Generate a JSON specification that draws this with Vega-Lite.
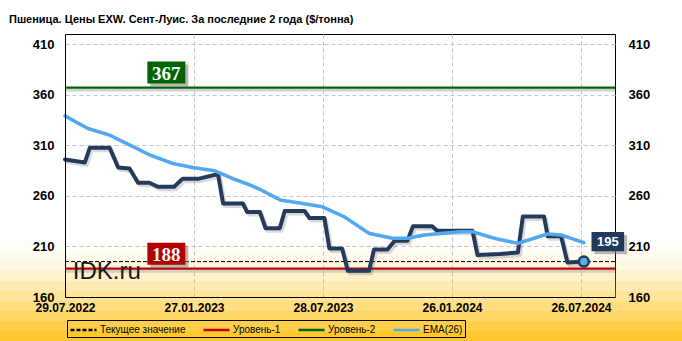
{
  "$schema": "https://vega.github.io/schema/vega-lite/v6.json",
  "width": 550,
  "height": 263,
  "autosize": "none",
  "padding": {"left": 65, "top": 34, "right": 67, "bottom": 44},
  "background": "white",
  "title": {
    "text": "Пшеница.  Цены EXW. Сент-Луис. За последние 2 года ($/тонна)",
    "anchor": "start",
    "frame": "group",
    "dx": -56,
    "offset": 0,
    "baseline": "alphabetic",
    "font": "Liberation Sans",
    "fontSize": 11,
    "fontWeight": "bold",
    "color": "black"
  },
  "config": {
    "view": {"stroke": "black", "strokeWidth": 1},
    "legend": {
      "orient": "none",
      "legendX": 2,
      "legendY": 286,
      "direction": "horizontal",
      "title": null,
      "padding": 2,
      "strokeColor": "black",
      "labelFont": "Liberation Sans",
      "labelFontSize": 10,
      "labelColor": "black",
      "labelOffset": 15,
      "columnPadding": 12,
      "symbolType": "M-1,0L3,0",
      "symbolSize": 169,
      "symbolStrokeWidth": 2.5,
      "symbolFillColor": "transparent"
    }
  },
  "datasets": {
    "price": [
      {"date": "2022-07-29", "value": 296},
      {"date": "2022-08-26", "value": 293},
      {"date": "2022-09-02", "value": 307.5},
      {"date": "2022-09-30", "value": 307.5},
      {"date": "2022-10-12", "value": 288},
      {"date": "2022-10-28", "value": 287},
      {"date": "2022-11-09", "value": 273},
      {"date": "2022-11-25", "value": 273},
      {"date": "2022-12-07", "value": 269},
      {"date": "2022-12-30", "value": 269},
      {"date": "2023-01-11", "value": 277},
      {"date": "2023-02-03", "value": 277},
      {"date": "2023-02-24", "value": 280.5},
      {"date": "2023-03-02", "value": 281},
      {"date": "2023-03-09", "value": 252.5},
      {"date": "2023-04-06", "value": 252.5},
      {"date": "2023-04-12", "value": 244},
      {"date": "2023-04-30", "value": 244},
      {"date": "2023-05-08", "value": 228},
      {"date": "2023-05-28", "value": 228},
      {"date": "2023-06-04", "value": 245},
      {"date": "2023-07-02", "value": 245},
      {"date": "2023-07-09", "value": 238},
      {"date": "2023-07-30", "value": 238},
      {"date": "2023-08-06", "value": 208},
      {"date": "2023-08-24", "value": 208},
      {"date": "2023-09-01", "value": 186},
      {"date": "2023-10-01", "value": 186},
      {"date": "2023-10-08", "value": 207},
      {"date": "2023-10-27", "value": 207},
      {"date": "2023-11-06", "value": 215.5},
      {"date": "2023-11-24", "value": 215.5},
      {"date": "2023-12-02", "value": 230},
      {"date": "2023-12-29", "value": 230},
      {"date": "2024-01-05", "value": 225.5},
      {"date": "2024-02-24", "value": 225.5},
      {"date": "2024-03-02", "value": 201.5},
      {"date": "2024-04-02", "value": 202.5},
      {"date": "2024-04-28", "value": 204},
      {"date": "2024-05-05", "value": 239.5},
      {"date": "2024-06-04", "value": 239.5},
      {"date": "2024-06-09", "value": 220},
      {"date": "2024-06-28", "value": 220},
      {"date": "2024-07-07", "value": 194},
      {"date": "2024-07-30", "value": 195}
    ],
    "ema": [
      {"date": "2022-07-29", "value": 339, "series": "EMA(26)"},
      {"date": "2022-08-30", "value": 326.7, "series": "EMA(26)"},
      {"date": "2022-09-30", "value": 320, "series": "EMA(26)"},
      {"date": "2022-10-29", "value": 310, "series": "EMA(26)"},
      {"date": "2022-11-26", "value": 300.3, "series": "EMA(26)"},
      {"date": "2022-12-28", "value": 292, "series": "EMA(26)"},
      {"date": "2023-01-25", "value": 288, "series": "EMA(26)"},
      {"date": "2023-02-25", "value": 284.8, "series": "EMA(26)"},
      {"date": "2023-03-23", "value": 277, "series": "EMA(26)"},
      {"date": "2023-04-16", "value": 270.7, "series": "EMA(26)"},
      {"date": "2023-04-30", "value": 266.4, "series": "EMA(26)"},
      {"date": "2023-05-29", "value": 255.8, "series": "EMA(26)"},
      {"date": "2023-06-28", "value": 252.6, "series": "EMA(26)"},
      {"date": "2023-07-27", "value": 249.2, "series": "EMA(26)"},
      {"date": "2023-08-27", "value": 239.3, "series": "EMA(26)"},
      {"date": "2023-10-01", "value": 222.9, "series": "EMA(26)"},
      {"date": "2023-11-03", "value": 218, "series": "EMA(26)"},
      {"date": "2023-11-24", "value": 218, "series": "EMA(26)"},
      {"date": "2023-12-18", "value": 221.3, "series": "EMA(26)"},
      {"date": "2024-02-06", "value": 224.5, "series": "EMA(26)"},
      {"date": "2024-02-24", "value": 224.5, "series": "EMA(26)"},
      {"date": "2024-03-26", "value": 218, "series": "EMA(26)"},
      {"date": "2024-04-28", "value": 213, "series": "EMA(26)"},
      {"date": "2024-05-25", "value": 219, "series": "EMA(26)"},
      {"date": "2024-06-09", "value": 222.3, "series": "EMA(26)"},
      {"date": "2024-06-28", "value": 221.3, "series": "EMA(26)"},
      {"date": "2024-07-30", "value": 213.7, "series": "EMA(26)"}
    ],
    "levels": [
      {"series": "Уровень-1", "value": 188},
      {"series": "Уровень-2", "value": 367}
    ],
    "current": [
      {"series": "Текущее значение", "value": 195, "date": "2024-07-30"}
    ]
  },
  "resolve": {"axis": {"x": "independent", "y": "independent"}},
  "layer": [
    {
      "data": {"name": "current"},
      "mark": {"type": "point", "shape": "M-1,0L1,0L1,1L-1,1Z", "size": 640000, "filled": true, "fill": "#ffc41e", "opacity": 0.015, "strokeWidth": 0, "xOffset": -243},
      "encoding": {
        "x": {
          "field": "date",
          "type": "temporal",
          "scale": {"type": "utc", "domain": [{"year": 2022, "month": 7, "date": 29, "utc": true}, {"year": 2024, "month": 9, "date": 12, "utc": true}]},
          "axis": {
            "orient": "bottom", "title": null, "grid": true, "gridColor": "#c4c4c4", "gridDash": [4, 3], "gridWidth": 1,
            "labels": false, "ticks": false, "domain": false, "zindex": 0,
            "values": [
              {"year": 2022, "month": 7, "date": 29, "utc": true},
              {"year": 2023, "month": 1, "date": 27, "utc": true},
              {"year": 2023, "month": 7, "date": 28, "utc": true},
              {"year": 2024, "month": 1, "date": 26, "utc": true},
              {"year": 2024, "month": 7, "date": 26, "utc": true}
            ]
          }
        },
        "y": {
          "datum": 215.4,
          "type": "quantitative",
          "scale": {"domain": [160, 420], "nice": false, "zero": false},
          "axis": {
            "orient": "left", "title": null, "grid": true, "gridColor": "#c4c4c4", "gridDash": [4, 3], "gridWidth": 1,
            "labels": false, "ticks": false, "domain": false, "zindex": 0,
            "values": [160, 210, 260, 310, 360, 410]
          }
        }
      }
    },
    {
      "data": {"name": "current"},
      "mark": {"type": "point", "shape": "M-1,0L1,0L1,1L-1,1Z", "size": 640000, "filled": true, "fill": "#ffc41e", "opacity": 0.056, "strokeWidth": 0, "xOffset": -243},
      "encoding": {
        "x": {"field": "date", "type": "temporal", "axis": null},
        "y": {"datum": 205.5, "type": "quantitative", "axis": null}
      }
    },
    {
      "data": {"name": "current"},
      "mark": {"type": "point", "shape": "M-1,0L1,0L1,1L-1,1Z", "size": 640000, "filled": true, "fill": "#ffc41e", "opacity": 0.075, "strokeWidth": 0, "xOffset": -243},
      "encoding": {
        "x": {"field": "date", "type": "temporal", "axis": null},
        "y": {"datum": 195.6, "type": "quantitative", "axis": null}
      }
    },
    {
      "data": {"name": "current"},
      "mark": {"type": "point", "shape": "M-1,0L1,0L1,1L-1,1Z", "size": 640000, "filled": true, "fill": "#ffc41e", "opacity": 0.105, "strokeWidth": 0, "xOffset": -243},
      "encoding": {
        "x": {"field": "date", "type": "temporal", "axis": null},
        "y": {"datum": 185.7, "type": "quantitative", "axis": null}
      }
    },
    {
      "data": {"name": "current"},
      "mark": {"type": "point", "shape": "M-1,0L1,0L1,1L-1,1Z", "size": 640000, "filled": true, "fill": "#ffc41e", "opacity": 0.13, "strokeWidth": 0, "xOffset": -243},
      "encoding": {
        "x": {"field": "date", "type": "temporal", "axis": null},
        "y": {"datum": 175.8, "type": "quantitative", "axis": null}
      }
    },
    {
      "data": {"name": "current"},
      "mark": {"type": "point", "shape": "M-1,0L1,0L1,1L-1,1Z", "size": 640000, "filled": true, "fill": "#ffc41e", "opacity": 0.15, "strokeWidth": 0, "xOffset": -243},
      "encoding": {
        "x": {"field": "date", "type": "temporal", "axis": null},
        "y": {"datum": 165.9, "type": "quantitative", "axis": null}
      }
    },
    {
      "data": {"name": "current"},
      "mark": {"type": "point", "shape": "M-1,0L1,0L1,1L-1,1Z", "size": 640000, "filled": true, "fill": "#ffc41e", "opacity": 0.21, "strokeWidth": 0, "xOffset": -243},
      "encoding": {
        "x": {"field": "date", "type": "temporal", "axis": null},
        "y": {"datum": 156.0, "type": "quantitative", "axis": null}
      }
    },
    {
      "data": {"name": "current"},
      "mark": {"type": "point", "shape": "M-1,0L1,0L1,1L-1,1Z", "size": 640000, "filled": true, "fill": "#ffc41e", "opacity": 0.27, "strokeWidth": 0, "xOffset": -243},
      "encoding": {
        "x": {"field": "date", "type": "temporal", "axis": null},
        "y": {"datum": 146.2, "type": "quantitative", "axis": null}
      }
    },
    {
      "data": {"name": "current"},
      "mark": {"type": "point", "shape": "M-1,0L1,0L1,1L-1,1Z", "size": 640000, "filled": true, "fill": "#ffc41e", "opacity": 0.39, "strokeWidth": 0, "xOffset": -243},
      "encoding": {
        "x": {"field": "date", "type": "temporal", "axis": null},
        "y": {"datum": 136.3, "type": "quantitative", "axis": null}
      }
    },
    {
      "data": {"name": "current"},
      "mark": {"type": "point", "shape": "M-1,0L1,0L1,1L-1,1Z", "size": 640000, "filled": true, "fill": "#ffc41e", "opacity": 0.65, "strokeWidth": 0, "xOffset": -243},
      "encoding": {
        "x": {"field": "date", "type": "temporal", "axis": null},
        "y": {"datum": 126.4, "type": "quantitative", "axis": null}
      }
    },
    {
      "data": {"name": "levels"},
      "mark": {"type": "rule", "color": "#bdbdbd", "strokeWidth": 3, "yOffset": 2.5, "opacity": 0.7},
      "encoding": {
        "y": {"field": "value", "type": "quantitative", "axis": null}
      }
    },
    {
      "data": {"name": "levels"},
      "mark": {"type": "rule", "strokeWidth": 2.2},
      "encoding": {
        "y": {"field": "value", "type": "quantitative", "axis": null},
        "color": {"field": "series", "type": "nominal",
          "scale": {"domain": ["Текущее значение", "Уровень-1", "Уровень-2", "EMA(26)"], "range": ["black", "#c00000", "#006400", "#52a8f0"]}},
        "strokeDash": {"field": "series", "type": "nominal",
          "scale": {"domain": ["Текущее значение", "Уровень-1", "Уровень-2", "EMA(26)"], "range": [[4, 2], [1, 0], [1, 0], [1, 0]]}}
      }
    },
    {
      "data": {"name": "current"},
      "mark": {"type": "rule", "strokeWidth": 1},
      "encoding": {
        "y": {"field": "value", "type": "quantitative", "axis": null},
        "color": {"field": "series", "type": "nominal"},
        "strokeDash": {"field": "series", "type": "nominal"}
      }
    },
    {
      "data": {"name": "price"},
      "mark": {"type": "line", "color": "black", "opacity": 0.15, "strokeWidth": 4, "xOffset": 2, "yOffset": 2.5, "strokeJoin": "round", "strokeCap": "round"},
      "encoding": {
        "x": {"field": "date", "type": "temporal", "axis": null},
        "y": {"field": "value", "type": "quantitative", "axis": null}
      }
    },
    {
      "data": {"name": "price"},
      "mark": {"type": "line", "color": "#243b5c", "strokeWidth": 4, "strokeJoin": "round", "strokeCap": "round"},
      "encoding": {
        "x": {
          "field": "date", "type": "temporal",
          "axis": {
            "orient": "bottom", "title": null, "grid": false, "ticks": false, "domain": true, "domainColor": "black", "domainWidth": 1,
            "format": "%d.%m.%Y", "labelFont": "Liberation Sans", "labelFontSize": 12, "labelFontWeight": "bold", "labelColor": "black",
            "labelPadding": 5, "labelFlush": false, "labelOverlap": false, "zindex": 1,
            "values": [
              {"year": 2022, "month": 7, "date": 29, "utc": true},
              {"year": 2023, "month": 1, "date": 27, "utc": true},
              {"year": 2023, "month": 7, "date": 28, "utc": true},
              {"year": 2024, "month": 1, "date": 26, "utc": true},
              {"year": 2024, "month": 7, "date": 26, "utc": true}
            ]
          }
        },
        "y": {
          "field": "value", "type": "quantitative",
          "axis": {
            "orient": "left", "title": null, "grid": false, "ticks": false, "domain": true, "domainColor": "black",
            "labelFont": "Liberation Sans", "labelFontSize": 13, "labelFontWeight": "bold", "labelColor": "black",
            "labelPadding": 11, "zindex": 1, "values": [160, 210, 260, 310, 360, 410]
          }
        }
      }
    },
    {
      "data": {"name": "ema"},
      "mark": {"type": "line", "strokeWidth": 3.5, "strokeJoin": "round", "strokeCap": "round"},
      "encoding": {
        "x": {"field": "date", "type": "temporal", "axis": null},
        "y": {
          "field": "value", "type": "quantitative",
          "axis": {
            "orient": "right", "title": null, "grid": false, "ticks": false, "domain": false,
            "labelFont": "Liberation Sans", "labelFontSize": 13, "labelFontWeight": "bold", "labelColor": "black",
            "labelPadding": 13, "zindex": 1, "values": [160, 210, 260, 310, 360, 410]
          }
        },
        "color": {"field": "series", "type": "nominal"},
        "strokeDash": {"field": "series", "type": "nominal"}
      }
    },
    {
      "data": {"name": "current"},
      "mark": {"type": "point", "shape": "circle", "filled": true, "fill": "#56b2dc", "stroke": "#1f3a5c", "strokeWidth": 2.5, "size": 100, "opacity": 1},
      "encoding": {
        "x": {"field": "date", "type": "temporal", "axis": null},
        "y": {"field": "value", "type": "quantitative", "axis": null}
      }
    },
    {
      "data": {"name": "levels"},
      "mark": {"type": "point", "shape": "M-1.727,-1L1.727,-1L1.727,1L-1.727,1Z", "size": 484, "filled": true, "fill": "#808080", "opacity": 0.55, "strokeWidth": 0, "xOffset": 3, "yOffset": -12},
      "encoding": {
        "x": {"datum": {"year": 2022, "month": 12, "date": 19, "utc": true}, "type": "temporal", "axis": null},
        "y": {"field": "value", "type": "quantitative", "axis": null}
      }
    },
    {
      "data": {"name": "levels"},
      "mark": {"type": "point", "shape": "M-1.727,-1L1.727,-1L1.727,1L-1.727,1Z", "size": 484, "filled": true, "opacity": 1, "strokeWidth": 0, "yOffset": -15},
      "encoding": {
        "x": {"datum": {"year": 2022, "month": 12, "date": 19, "utc": true}, "type": "temporal", "axis": null},
        "y": {"field": "value", "type": "quantitative", "axis": null},
        "fill": {"condition": {"test": "datum.series === 'Уровень-2'", "value": "#006400"}, "value": "#b40000"}
      }
    },
    {
      "data": {"name": "levels"},
      "mark": {"type": "text", "color": "white", "font": "Liberation Serif", "fontSize": 19, "fontWeight": "bold", "align": "center", "baseline": "middle", "yOffset": -14},
      "encoding": {
        "x": {"datum": {"year": 2022, "month": 12, "date": 19, "utc": true}, "type": "temporal", "axis": null},
        "y": {"field": "value", "type": "quantitative", "axis": null},
        "text": {"field": "value", "type": "quantitative", "format": "d"}
      }
    },
    {
      "data": {"name": "current"},
      "mark": {"type": "point", "shape": "M-1.68,-1L1.68,-1L1.68,1L-1.68,1Z", "size": 376, "filled": true, "fill": "#808080", "opacity": 0.55, "strokeWidth": 0, "xOffset": 27, "yOffset": -17},
      "encoding": {
        "x": {"field": "date", "type": "temporal", "axis": null},
        "y": {"field": "value", "type": "quantitative", "axis": null}
      }
    },
    {
      "data": {"name": "current"},
      "mark": {"type": "point", "shape": "M-1.68,-1L1.68,-1L1.68,1L-1.68,1Z", "size": 376, "filled": true, "fill": "#1f3a5c", "opacity": 1, "strokeWidth": 0, "xOffset": 24, "yOffset": -20},
      "encoding": {
        "x": {"field": "date", "type": "temporal", "axis": null},
        "y": {"field": "value", "type": "quantitative", "axis": null}
      }
    },
    {
      "data": {"name": "current"},
      "mark": {"type": "text", "color": "white", "font": "Liberation Sans", "fontSize": 13, "fontWeight": "bold", "align": "center", "baseline": "middle", "xOffset": 24, "yOffset": -19.5},
      "encoding": {
        "x": {"field": "date", "type": "temporal", "axis": null},
        "y": {"field": "value", "type": "quantitative", "axis": null},
        "text": {"field": "value", "type": "quantitative", "format": "d"}
      }
    },
    {
      "data": {"values": [{}]},
      "mark": {"type": "text", "text": "IDK.ru", "color": "#1a1a1a", "font": "Liberation Sans", "fontSize": 24, "align": "left", "baseline": "alphabetic"},
      "encoding": {
        "x": {"datum": {"year": 2022, "month": 8, "date": 9, "utc": true}, "type": "temporal", "axis": null},
        "y": {"datum": 178, "type": "quantitative", "axis": null}
      }
    }
  ]
}
